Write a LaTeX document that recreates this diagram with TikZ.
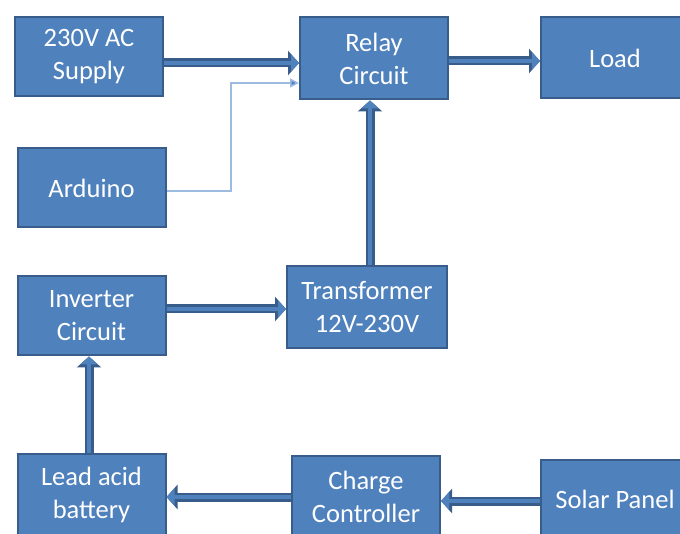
\documentclass[tikz,border=0pt]{standalone}
\usepackage{fontspec}
\setmainfont{Carlito}
\usetikzlibrary{arrows.meta, positioning}
\definecolor{boxfill}{HTML}{4F81BD}
\definecolor{boxline}{HTML}{385D8A}
\definecolor{wire}{HTML}{9DBBE0}
\begin{document}
\begin{tikzpicture}[x=1pt, y=-1pt,
  block/.style={draw=boxline, fill=boxfill, line width=2pt, text=white, align=center,
    minimum width=148pt, minimum height=79pt, inner sep=0pt,
    font=\fontsize{26.5}{33}\selectfont},
  pipe/.style={draw=boxfill, line width=4pt, -{Triangle[length=8pt, width=17pt]},
    preaction={draw=boxline, line width=9pt, -{Triangle[length=11pt, width=24pt]}}},
  signal/.style={draw=wire, line width=1.5pt, -{Triangle[length=9pt, width=9pt, fill=boxfill]}}]
  \useasboundingbox (0,0) rectangle (680,534);
  \clip (0,0) rectangle (680,534);
  \fill[white] (0,0) rectangle (680,534);
  % top row
  \node[block] (supply) at (89,56.5) {230V AC\\Supply};
  \node[block, minimum height=82pt] (relay) at (374,58.5) {Relay\\Circuit};
  \node[block, minimum height=81pt] (load) at (615,58) {Load};
  % middle
  \node[block] (arduino) at (91.5,188) {Arduino};
  \node[block] (inverter) at (91.5,316) {Inverter\\Circuit};
  \node[block, minimum width=160pt, minimum height=82pt] (trans) at (367,307.5) {Transformer\\12V-230V};
  % bottom row
  \node[block, minimum height=82pt] (battery) at (91.5,495) {Lead acid\\battery};
  \node[block, minimum height=82pt] (charge) at (366,497) {Charge\\Controller};
  \node[block, minimum height=78pt] (solar) at (615,499) {Solar Panel};
  % connections
  \coordinate (bend) at (231,83);
  \draw[pipe] (supply.east |- 0,63) -- (relay.west |- 0,63);
  \draw[pipe] (relay.east |- 0,61) -- (load.west |- 0,61);
  \draw[signal] (arduino.east |- 0,191) -| (bend) -- (relay.west |- bend);
  \draw[pipe] (trans.north -| 370,0) -- (relay.south -| 370,0);
  \draw[pipe] (inverter.east |- 0,309) -- (trans.west |- 0,309);
  \draw[pipe] (battery.north -| 89,0) -- (inverter.south -| 89,0);
  \draw[pipe] (charge.west |- 0,497) -- (battery.east |- 0,497);
  \draw[pipe] (solar.west |- 0,501) -- (charge.east |- 0,501);
\end{tikzpicture}
\end{document}
